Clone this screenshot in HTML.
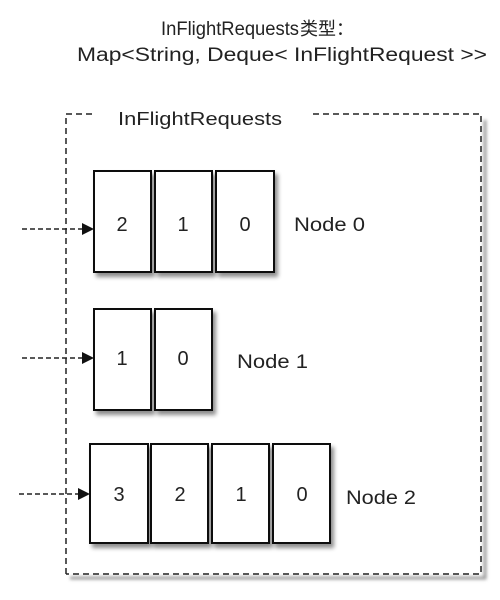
<!DOCTYPE html>
<html><head><meta charset="utf-8"><style>
html,body{margin:0;padding:0;background:#fff;}
svg{display:block;}
text{font-family:"Liberation Sans","Noto Sans CJK SC",sans-serif;fill:#222;}
</style></head><body>
<svg width="500" height="600" viewBox="0 0 500 600" xmlns="http://www.w3.org/2000/svg">
<defs>
<filter id="sh" x="-10%" y="-10%" width="130%" height="130%">
<feGaussianBlur in="SourceAlpha" stdDeviation="2"/>
<feOffset dx="3" dy="4" result="b"/>
<feComponentTransfer><feFuncA type="linear" slope="0.45"/></feComponentTransfer>
<feMerge><feMergeNode/><feMergeNode in="SourceGraphic"/></feMerge>
</filter>
<filter id="bl"><feGaussianBlur stdDeviation="1.5"/></filter>
<marker id="ar" markerWidth="12" markerHeight="12" refX="11" refY="6" orient="auto" markerUnits="userSpaceOnUse">
<path d="M0,0 L12,6 L0,12 z" fill="#111"/>
</marker>
</defs>
<text x="161" y="35" font-size="19" style="font-family:'Liberation Sans',sans-serif" textLength="138" lengthAdjust="spacingAndGlyphs">InFlightRequests</text>
<text x="300" y="35" font-size="18" style="font-family:'Noto Sans CJK SC',sans-serif">类型：</text>
<text x="282" y="61" font-size="19" text-anchor="middle" textLength="410" lengthAdjust="spacingAndGlyphs">Map&lt;String, Deque&lt; InFlightRequest &gt;&gt;</text>

<path d="M485,120 L485,578 L70,578" fill="none" stroke="#999" stroke-width="3" filter="url(#bl)"/>
<g stroke="#222" stroke-width="1.5" stroke-dasharray="6,4" fill="none">
<path d="M66,574 L66,114 L93,114"/>
<path d="M313,114 L481,114 L481,574 L66,574"/>
</g>
<text x="118" y="125" font-size="18" textLength="164" lengthAdjust="spacingAndGlyphs">InFlightRequests</text>

<g stroke="#222" stroke-width="1.5" stroke-dasharray="5,3" fill="none">
<line x1="22" y1="229" x2="93" y2="229" marker-end="url(#ar)"/>
<line x1="22" y1="358" x2="93" y2="358" marker-end="url(#ar)"/>
<line x1="19" y1="494" x2="89" y2="494" marker-end="url(#ar)"/>
</g>

<g fill="#fff" stroke="#111" stroke-width="2" filter="url(#sh)">
<rect x="94" y="171" width="57" height="101"/>
<rect x="155" y="171" width="57" height="101"/>
<rect x="216" y="171" width="58" height="101"/>
<rect x="94" y="309" width="57" height="101"/>
<rect x="155" y="309" width="57" height="101"/>
<rect x="90" y="444" width="58" height="99"/>
<rect x="151" y="444" width="57" height="99"/>
<rect x="212" y="444" width="57" height="99"/>
<rect x="273" y="444" width="57" height="99"/>
</g>
<g font-size="20" text-anchor="middle">
<text x="122" y="231">2</text><text x="183" y="231">1</text><text x="245" y="231">0</text>
<text x="122" y="365">1</text><text x="183" y="365">0</text>
<text x="119" y="501">3</text><text x="180" y="501">2</text><text x="241" y="501">1</text><text x="302" y="501">0</text>
</g>
<g font-size="19">
<text x="294" y="231" textLength="71" lengthAdjust="spacingAndGlyphs">Node 0</text>
<text x="237" y="368" textLength="71" lengthAdjust="spacingAndGlyphs">Node 1</text>
<text x="346" y="504" textLength="70" lengthAdjust="spacingAndGlyphs">Node 2</text>
</g>
</svg>
</body></html>
